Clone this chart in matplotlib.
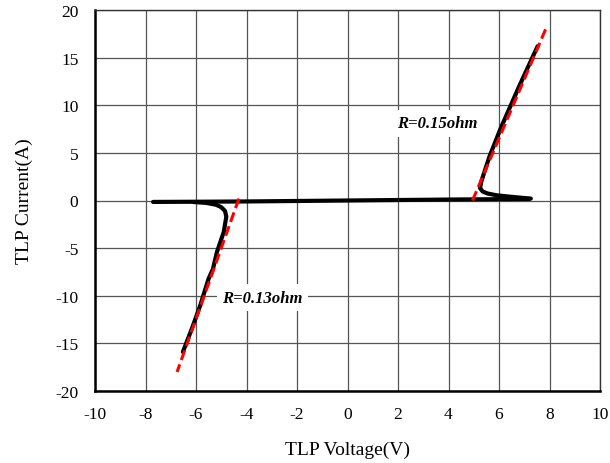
import matplotlib
matplotlib.use("Agg")
import matplotlib.pyplot as plt

plt.rcParams['font.family'] = ['Liberation Serif', 'DejaVu Serif']

# Main (off-state) line
main_v = [-7.7, -6.0, -4.0, -2.0, 0.0, 2.0, 4.0, 6.0, 7.2]
main_i = [-0.15, -0.13, -0.1, -0.05, 0.0, 0.05, 0.1, 0.14, 0.16]

# Negative snapback branch
neg_v = [-6.1, -5.6, -5.2, -5.0, -4.85, -4.8, -4.9, -5.17, -5.33, -5.5, -5.83, -6.17, -6.52]
neg_i = [-0.16, -0.25, -0.45, -0.7, -1.1, -1.7, -3.3, -5.4, -7.2, -8.2, -11.0, -13.5, -15.9]

# Positive snapback branch
pos_v = [7.26, 6.47, 5.9, 5.54, 5.35, 5.25, 5.3, 5.62, 6.07, 6.8, 7.53]
pos_i = [0.2, 0.39, 0.55, 0.74, 0.95, 1.3, 2.0, 4.6, 7.6, 12.0, 16.2]

# Linear fits (on-resistance)
fit_pos_v = [4.95, 7.85]
fit_pos_i = [0.0, 18.0]
fit_neg_v = [-4.3, -6.75]
fit_neg_i = [0.2, -18.0]

label_pos = "R=0.15ohm"
label_neg = "R=0.13ohm"

xticks = list(range(-10, 11, 2))
yticks = list(range(-20, 21, 5))

fig = plt.figure(figsize=(6.10, 4.64), dpi=100)
ax = fig.add_axes([95/610, (464-392)/464, (600-95)/610, (392-11)/464])

ax.set_xlim(-10, 10)
ax.set_ylim(-20, 20)
ax.set_xticks(xticks)
ax.set_yticks(yticks)
ax.set_xticklabels([str(t) for t in xticks])
ax.set_yticklabels([str(t) for t in yticks])
ax.grid(True, color='#555555', linewidth=0.9, zorder=0)
ax.set_axisbelow(True)
ax.tick_params(axis='both', length=0, labelsize=12.5, colors='black')
ax.tick_params(axis='x', pad=11)
ax.tick_params(axis='y', pad=12)
for side in ['top', 'right']:
    ax.spines[side].set_linewidth(1.0)
    ax.spines[side].set_color('#333333')
for side in ['left', 'bottom']:
    ax.spines[side].set_linewidth(1.8)
    ax.spines[side].set_color('black')

lw = 3.0
ax.plot(main_v, main_i, color='black', linewidth=lw, solid_capstyle='round', zorder=3)
ax.plot(neg_v, neg_i, color='black', linewidth=lw, solid_capstyle='round', solid_joinstyle='round', zorder=3)
ax.plot(pos_v, pos_i, color='black', linewidth=lw, solid_capstyle='round', solid_joinstyle='round', zorder=3)

ax.plot(fit_pos_v, fit_pos_i, color='#ff0000', linewidth=2.2, linestyle=(0, (3.3, 1.5)), zorder=4)
ax.plot(fit_neg_v, fit_neg_i, color='#ff0000', linewidth=2.2, linestyle=(0, (3.3, 1.5)), zorder=4)

bbox = dict(facecolor='white', edgecolor='none', pad=4)
ax.text(3.57, 8.1, label_pos, fontsize=12, fontweight='bold', fontstyle='italic',
        ha='center', va='center', bbox=bbox, zorder=2)
ax.text(-3.37, -10.2, label_neg, fontsize=12, fontweight='bold', fontstyle='italic',
        ha='center', va='center', bbox=bbox, zorder=2)

ax.set_xlabel('TLP Voltage(V)', fontsize=14, labelpad=13)
ax.set_ylabel('TLP Current(A)', fontsize=14, labelpad=16)

fig.savefig('out.png', dpi=100)
